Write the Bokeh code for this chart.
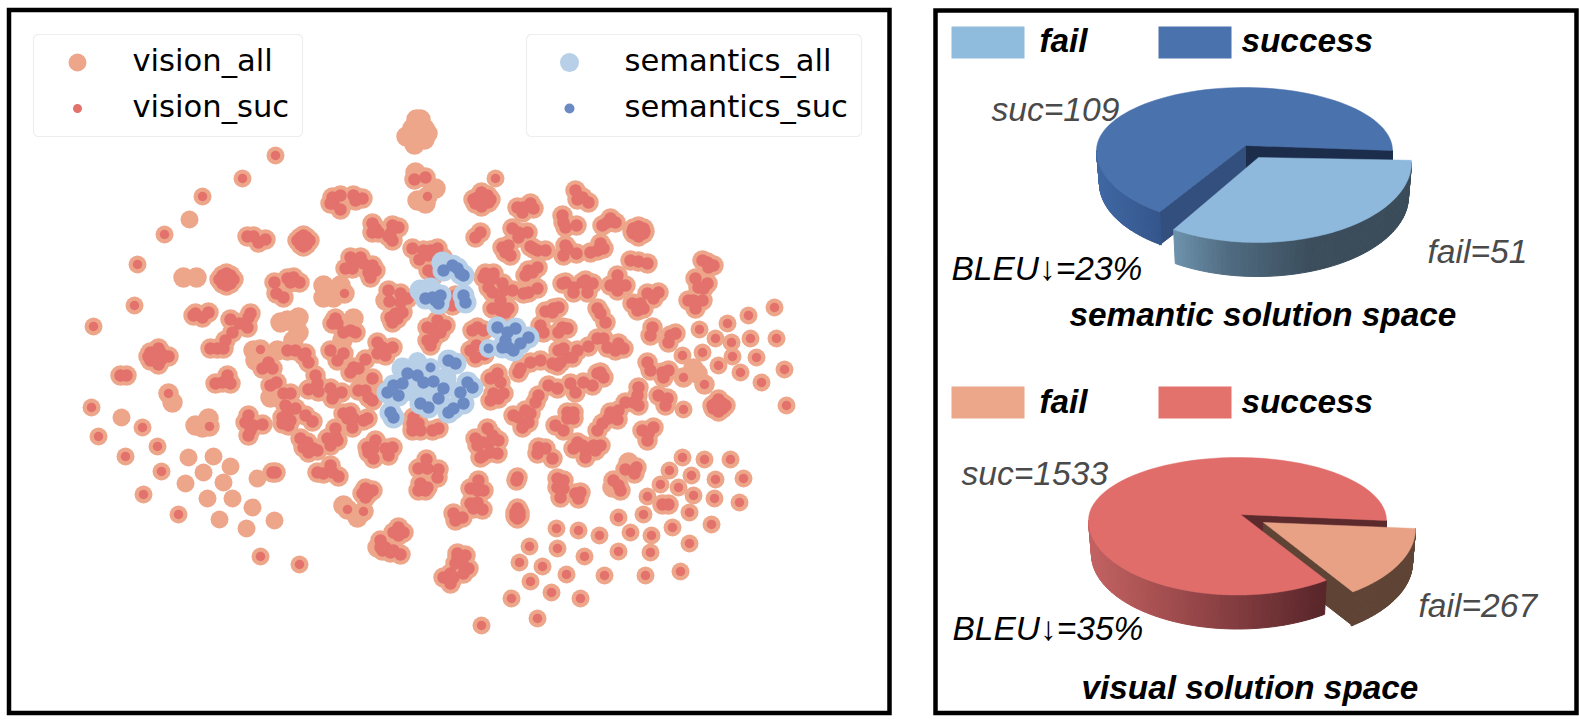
import math
from bokeh.plotting import figure
from bokeh.models import Range1d
from bokeh.core.properties import value
from bokeh.embed import file_html
from bokeh.resources import INLINE

# ---------- data ----------
vision_suc_pts = [
 (414,179),(425,177),(427,196),(275,155),(242,178),(202,196),(164,234),(137,264),(134,305),(93,326),
 (222,275),(230,275),(222,283),(230,283),(226,279),(219,279),(233,279),(226,273),(226,285),
 (247,236),(253,236),(258,242),(265,239),
 (300,237),(306,237),(300,244),(306,244),(303,240),(297,240),(309,240),(303,235),(303,246),
 (332,197),(340,195),(333,203),(340,209),(353,195),(362,198),(355,200),(330,203),
 (372,223),(375,228),(372,232),(378,232),(392,225),(398,227),(390,233),(392,240),(388,236),
 (412,248),(423,250),(430,250),(437,248),(419,259),(428,255),(442,257),(428,270),(433,275),
 (350,257),(360,257),(353,263),(345,268),(352,268),(363,263),(372,265),(368,272),(375,270),(370,277),
 (274,282),(287,278),(293,277),(299,282),(290,282),(276,293),(283,297),(344,293),
 (388,290),(389,301),(400,293),(407,298),(400,302),(395,313),(402,312),(390,317),(397,318),(392,322),
 (193,315),(202,317),(208,312),(195,313),
 (230,319),(239,323),(250,313),(248,317),(247,327),(232,332),(225,340),(217,348),(210,348),(223,348),
 (335,318),(332,323),(337,323),(350,330),(343,332),(355,332),
 (377,342),(382,347),(377,353),(392,347),(385,355),
 (437,320),(445,325),(427,327),(433,330),(440,332),(427,340),(433,338),(430,345),
 (150,352),(160,352),(150,360),(160,360),(155,356),(165,356),(148,356),(168,356),(158,348),(158,364),
 (260,349),(287,350),(295,350),(305,353),(303,355),(308,362),(268,362),(262,368),(272,368),
 (270,385),(276,382),(283,393),(290,393),
 (285,405),(295,408),(287,412),(282,417),(290,420),(282,423),(288,425),(305,415),(312,421),
 (300,438),(307,442),(313,448),(303,447),(308,452),(317,450),
 (327,438),(335,436),(335,428),(330,445),(337,440),
 (315,375),(317,383),(308,389),(318,391),(330,388),(333,395),(341,392),(332,398),
 (330,350),(337,360),(343,353),(353,367),(350,372),(358,368),(365,359),
 (372,378),(358,390),(365,390),(368,397),(372,400),
 (343,413),(350,412),(347,418),(353,418),(352,427),(363,420),(367,418),
 (248,415),(245,422),(253,425),(250,430),(248,435),(262,424),
 (215,383),(222,382),(227,375),(230,383),(120,375),(126,375),(168,393),
 (91,407),(142,427),(98,436),(157,446),(125,456),(161,471),(143,494),(178,514),(260,556),(299,564),
 (209,426),(272,472),(275,472),
 (330,465),(317,472),(323,473),(332,472),(338,476),
 (375,440),(367,447),(373,448),(368,452),(373,458),(385,448),(392,447),(388,455),
 (426,459),(418,468),(427,468),(438,469),(437,477),(420,483),(427,487),(418,490),(425,490),
 (365,488),(372,490),(362,493),(368,493),(365,497),(347,509),(363,511),
 (398,527),(393,532),(403,532),(398,535),
 (380,540),(385,547),(382,550),(390,552),(400,554),(393,550),(380,547),
 (413,417),(418,423),(412,430),(420,430),(432,430),(438,428),(412,423),
 (453,513),(462,517),(455,520),
 (457,557),(465,555),(462,563),(468,568),(453,577),(463,573),(455,563),(450,573),(443,577),(450,583),(457,553),
 (490,378),(497,373),(500,382),(493,393),(503,393),(490,400),(498,398),
 (520,368),(518,372),(530,362),(540,360),(552,363),(557,365),(560,362),(567,357),
 (548,385),(557,388),(538,395),(535,402),(570,383),(575,392),(583,382),(592,385),(597,373),(603,377),(600,372),
 (647,362),(650,370),(662,372),(668,370),(663,377),(683,377),(704,384),
 (718,365),(732,356),(756,357),(740,372),(761,382),(784,369),(786,405),(682,355),(702,352),
 (658,395),(667,398),(665,405),(683,409),
 (715,403),(722,403),(713,408),(722,408),(718,405),(712,405),(725,405),(718,399),(718,411),
 (638,387),(637,395),(625,402),(633,402),(638,405),
 (618,410),(610,412),(608,418),(617,419),(602,423),(597,430),
 (567,412),(573,412),(567,418),(573,418),(555,425),(563,430),
 (525,410),(530,413),(513,415),(528,422),(522,427),(518,417),
 (653,427),(642,430),(648,433),(647,440),
 (577,442),(573,448),(585,450),(585,457),(593,445),(600,445),(595,450),(582,445),
 (538,447),(545,448),(537,453),(552,458),
 (487,428),(475,438),(492,435),(498,440),(482,442),(488,443),(477,445),
 (490,452),(497,453),(483,455),(480,457),
 (478,480),(470,488),(477,490),(483,490),(470,503),(477,502),(482,509),(473,508),
 (517,477),(516,480),(515,512),(519,512),(515,516),(519,516),(517,508),(517,518),
 (557,478),(563,480),(557,487),(563,488),(560,497),(575,493),(580,492),(578,498),
 (625,469),(636,467),(634,473),(613,480),(618,485),(620,490),
 (682,457),(704,459),(730,459),(669,470),(691,475),(715,479),(743,478),(660,484),(678,487),(693,495),
 (714,498),(739,502),(647,496),(662,504),(668,504),(689,512),(643,514),(618,517),(711,524),(672,527),
 (630,532),(651,535),(556,528),(578,530),(599,535),(529,546),(557,548),(584,556),(618,551),(650,552),
 (689,543),(519,562),(542,566),(566,574),(604,575),(645,575),(680,571),(530,581),(551,592),(580,598),
 (511,598),(537,618),(481,625),
 (495,178),(477,197),(487,195),(475,203),(483,203),(488,202),(480,200),(473,199),(490,199),(481,192),(481,206),
 (517,207),(523,207),(530,203),(533,208),(522,212),
 (575,190),(577,199),(588,202),(582,197),(562,215),(563,222),(565,227),(576,225),
 (602,225),(610,218),(615,222),(607,222),
 (633,228),(643,228),(633,233),(643,233),(638,231),(632,231),(644,231),(638,226),(638,236),(475,237),(480,232),
 (512,228),(518,237),(527,232),(518,232),(502,247),(508,245),(505,252),(510,255),
 (530,246),(537,250),(545,250),(533,248),(565,245),(563,255),(576,253),(567,248),
 (590,252),(597,250),(600,243),(603,248),(630,260),(638,261),(647,263),
 (707,262),(713,265),(702,260),(708,267),(528,270),(537,267),(525,275),(532,272),
 (485,273),(493,273),(488,287),(492,292),(502,283),(503,290),(512,290),(500,300),(483,277),(493,278),
 (528,292),(537,288),(523,293),
 (565,282),(573,287),(573,292),(562,283),(585,280),(592,283),(587,292),(582,282),
 (617,275),(625,285),(617,282),(610,285),(617,290),(647,293),(658,292),(653,298),
 (632,303),(640,303),(637,310),(643,308),(695,278),(707,283),(698,287),(703,288),
 (688,300),(702,300),(695,308),(693,300),
 (774,307),(748,315),(727,323),(699,329),(715,338),(731,342),(750,338),(776,338),
 (500,310),(492,308),(508,308),(505,312),(553,308),(545,311),(558,307),(552,312),
 (540,325),(562,327),(543,332),(558,332),(567,328),(600,313),(597,308),(605,322),
 (652,327),(650,335),(670,335),(675,333),(668,342),
 (477,327),(483,330),(472,330),(470,350),(475,357),
 (588,346),(597,338),(603,338),(607,347),(618,343),(615,350),(623,348),
 (558,350),(563,348),(577,350),(572,357),(455,295),(452,305),(484,354),(476,345),
]
vision_fail_pts = [
 (416,119),(420,119),(406,136),(424,139),(414,144),(424,128),(412,128),(427,133),
 (415,172),(435,188),(417,200),(425,203),(189,219),(183,277),(196,277),
 (323,285),(340,285),(323,297),(333,297),(330,292),(385,300),
 (280,322),(298,317),(287,320),(298,332),(353,318),(342,340),
 (253,350),(277,350),(293,340),(255,360),(270,397),(280,398),(273,390),
 (362,383),(375,387),(172,402),(121,417),
 (188,457),(213,456),(203,472),(230,466),(185,483),(223,482),(207,498),(232,498),(252,507),(219,519),(246,528),(274,520),
 (195,425),(202,427),(208,418),(257,478),
 (343,505),(357,517),(377,547),(693,368),(697,373),(628,462),(612,487),
]
semantics_suc_pts = [
 (443,270),(452,265),(460,273),(457,268),(463,275),
 (425,298),(432,297),(440,295),(438,303),(435,300),(463,295),(465,302),
 (497,327),(515,328),(507,332),(505,340),(502,347),(528,337),(520,343),(513,350),(488,348),(508,347),
 (448,360),(455,363),(430,367),
 (407,373),(417,375),(423,382),(433,381),(443,388),(393,385),(387,392),(402,383),(398,395),(438,398),(420,403),(428,407),
 (467,382),(472,387),(460,392),(463,403),(453,408),(448,412),(390,412),(393,417),
]
semantics_fail_pts = [
 (442,262),(420,290),(430,288),(402,368),(417,361),(412,390),(425,392),(445,378),
]
semantic_counts = {"suc": 109, "fail": 51}
visual_counts = {"suc": 1533, "fail": 267}
semantic_suc_slice_deg = 235  # as drawn in the picture

C_VIS_ALL, C_VIS_SUC = "#eda68a", "#e3716c"
C_SEM_ALL, C_SEM_SUC = "#b8cfe8", "#6b8ac4"


def xy(pts):
    return [a for a, _ in pts], [b for _, b in pts]


def sizes(pts, alone, crowded, reach=14):
    """A point that touches a neighbour is drawn a little larger, so that clusters read as blobs."""
    out = []
    for i, (a, b) in enumerate(pts):
        near = any(j != i and (a - c) ** 2 + (b - d) ** 2 < reach ** 2 for j, (c, d) in enumerate(pts))
        out.append(crowded if near else alone)
    return out


p = figure(width=1579, height=726, x_range=Range1d(0, 1579), y_range=Range1d(726, 0),
           x_axis_location=None, y_axis_location=None, toolbar_location=None,
           output_backend="svg", min_border=0, outline_line_color=None,
           background_fill_color="white", border_fill_color="white")
p.grid.visible = False


def rounded(x0, y0, x1, y1, r=5, n=6):
    xs, ys = [], []
    for cx, cy, a0 in [(x1 - r, y0 + r, -90), (x1 - r, y1 - r, 0), (x0 + r, y1 - r, 90), (x0 + r, y0 + r, 180)]:
        for i in range(n + 1):
            a = math.radians(a0 + 90 * i / n)
            xs.append(cx + r * math.cos(a))
            ys.append(cy + r * math.sin(a))
    return xs, ys


# frames
p.quad(left=[8.5, 935], right=[889, 1576], top=[9.5, 10], bottom=[712.5, 712.5],
       fill_color=None, line_color="black", line_width=4.5, line_join="miter")

# scatter
allv = vision_suc_pts + vision_fail_pts
vx, vy = xy(allv)
sx, sy = xy(vision_suc_pts)
p.scatter(vx, vy, size=sizes(allv, 18, 20.5), fill_color=C_VIS_ALL, line_color=None)
p.scatter(sx, sy, size=sizes(vision_suc_pts, 9.5, 12.5), fill_color=C_VIS_SUC, line_color=None)
alls = semantics_suc_pts + semantics_fail_pts
vx, vy = xy(alls)
sx, sy = xy(semantics_suc_pts)
p.scatter(vx, vy, size=sizes(alls, 19, 22), fill_color=C_SEM_ALL, line_color=None)
p.scatter(sx, sy, size=sizes(semantics_suc_pts, 10, 12.5), fill_color=C_SEM_SUC, line_color=None)

# scatter legends
for box in [(33, 34, 302, 136), (526, 34, 861, 136)]:
    xs, ys = rounded(*box)
    p.patch(xs, ys, fill_color="white", fill_alpha=0.8, line_color="#eeeeee", line_width=1.2)
p.scatter([77], [62], size=18, fill_color=C_VIS_ALL, line_color=None)
p.scatter([77], [108], size=9, fill_color=C_VIS_SUC, line_color=None)
p.scatter([569], [62], size=19, fill_color=C_SEM_ALL, line_color=None)
p.scatter([569], [108], size=10, fill_color=C_SEM_SUC, line_color=None)
p.text([132, 132, 624, 624], [60, 106, 60, 106],
       text=["vision_all", "vision_suc", "semantics_all", "semantics_suc"],
       text_font=value("DejaVu Sans"), text_font_size="30.6px", text_color="black",
       text_baseline="alphabetic", text_align="left")


# 3D pies
def ell(e, deg, depth=0):
    cx, cy, rx, rt, rb = e
    a = math.radians(deg)
    s = math.sin(a)
    r = rx - 3 if depth else rx
    return cx + r * math.cos(a), cy + depth - (rt if s >= 0 else rb) * s


def arc(e, d0, d1, n=80):
    pts = [ell(e, d0 + (d1 - d0) * i / n) for i in range(n + 1)]
    return [a for a, _ in pts], [b for _, b in pts]


def mix(stops, x):
    if x <= stops[0][0]:
        c = stops[0][1]
    elif x >= stops[-1][0]:
        c = stops[-1][1]
    else:
        for (x0, c0), (x1, c1) in zip(stops, stops[1:]):
            if x0 <= x <= x1:
                t = (x - x0) / (x1 - x0)
                c = tuple(c0[i] + (c1[i] - c0[i]) * t for i in range(3))
                break
    return "#%02x%02x%02x" % tuple(int(round(v)) for v in c)


def side(e, d0, d1, depth, stops, n=70):
    xs, ys, cols = [], [], []
    for i in range(n):
        a0, a1 = d0 + (d1 - d0) * i / n, d0 + (d1 - d0) * (i + 1) / n
        p0, p1, p2, p3 = ell(e, a0), ell(e, a1), ell(e, a1, depth), ell(e, a0, depth)
        xs.append([p0[0], p1[0], p2[0], p3[0]])
        ys.append([p0[1], p1[1], p2[1], p3[1]])
        cols.append(mix(stops, (p0[0] + p1[0]) / 2))
    p.patches(xs, ys, fill_color=cols, line_color=cols, line_width=1)


def top(e, apex, d0, d1, color):
    xs, ys = arc(e, d0, d1)
    p.patch([apex[0]] + xs, [apex[1]] + ys, fill_color=color, line_color=color, line_width=0.5)


D = 33
# semantic pie
E1 = (1244, 150, 148, 63, 75)
A1 = (1245, 145)
F1 = (1257, 162, 154, 63, 80)
AF1 = (1258, 157)
end1 = semantic_suc_slice_deg
r1 = ell(E1, 0)
c1 = ell(E1, end1)
p.patch([A1[0], r1[0], r1[0], A1[0]], [A1[1], r1[1], r1[1] + D, A1[1] + D],
        fill_color="#1c2d4b", line_color="#1c2d4b")
p.patch([A1[0], c1[0], c1[0], A1[0]], [A1[1], c1[1], c1[1] + D, A1[1] + D],
        fill_color="#334f7d", line_color="#334f7d")
side(E1, 180, end1, D, [(1097, (64, 104, 163)), (1160, (52, 85, 140))])
top(E1, A1, 0, end1, "#4a72ad")
side(F1, end1 - 358, 0, D + 1,
     [(1173, (110, 147, 173)), (1227, (80, 108, 130)), (1310, (60, 78, 92)), (1411, (58, 76, 90))])
top(F1, AF1, end1 - 358, 2, "#8eb9dc")

# visual pie
end2 = 360 * visual_counts["suc"] / (visual_counts["suc"] + visual_counts["fail"])
E2 = (1237, 520, 149, 63, 74.5)
A2 = (1240, 514)
F2 = (1260, 528, 155, 63, 79)
AF2 = (1263, 522)
r2 = ell(E2, 0)
p.patch([A2[0], r2[0], r2[0], A2[0]], [A2[1], r2[1], r2[1] + 34, A2[1] + 34],
        fill_color="#5c2a2c", line_color="#5c2a2c")
c2f = ell(F2, end2)
p.patch([AF2[0], c2f[0], c2f[0], AF2[0]], [AF2[1], c2f[1], c2f[1] + 34, AF2[1] + 34],
        fill_color="#5f4436", line_color="#5f4436")
side(F2, end2 - 360, 0, 34, [(1300, (95, 68, 54)), (1420, (95, 68, 54))])
side(E2, 180, end2, 34, [(1088, (196, 98, 98)), (1195, (150, 70, 72)), (1325, (88, 38, 42))])
top(E2, A2, 0, end2, "#e06d6a")
top(F2, AF2, end2 - 360, 0, "#e8a185")

# pie legends
p.quad(left=[951, 1158, 951, 1158], right=[1024, 1231, 1024, 1231],
       top=[26, 26, 386, 386], bottom=[58, 58, 418, 418],
       fill_color=["#8fbbdd", "#4a72ad", "#eca78a", "#e3716c"], line_color=None)

BOLD = dict(text_font=value("Liberation Sans"), text_font_style="bold italic", text_font_size="33.3px",
            text_color="black", text_baseline="alphabetic")
p.text([1039, 1241, 1039, 1241], [40, 40, 401, 401], text=["fail", "success", "fail", "success"], **BOLD)
p.text([1069, 1081], [314, 687], text=["semantic solution space", "visual solution space"], **BOLD)
p.text([991, 1427, 961, 1418], [109, 251, 473, 605],
       text=["suc=%d" % semantic_counts["suc"], "fail=%d" % semantic_counts["fail"],
             "suc=%d" % visual_counts["suc"], "fail=%d" % visual_counts["fail"]],
       text_font=value("Liberation Sans"), text_font_style="italic", text_font_size="33.6px",
       text_color="#4a4a4a", text_baseline="alphabetic")
p.text([951, 952], [268, 628], text=["BLEU↓=23%", "BLEU↓=35%"],
       text_font=value("Liberation Sans"), text_font_style="italic", text_font_size="33.5px",
       text_color="black", text_baseline="alphabetic")

open("out.html", "w").write(file_html(p, INLINE))
